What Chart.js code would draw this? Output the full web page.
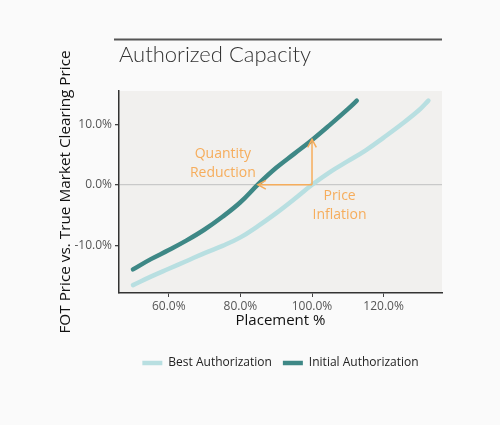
<!DOCTYPE html>
<html>
<head>
<meta charset="utf-8">
<script src="https://cdn.jsdelivr.net/npm/chart.js@4.4.1/dist/chart.umd.min.js"></script>
<style>
  html, body { margin: 0; padding: 0; background: #fafafa; }
  #wrap { width: 500px; height: 425px; position: relative; }
</style>
</head>
<body>
<div id="wrap"><canvas id="capacityChart"></canvas></div>
<script>
// Authorized Capacity: FOT price premium vs placement %
const chartTitle = 'Authorized Capacity';

const bestX = [50, 55, 60, 65, 70, 75, 80, 85, 90, 95, 100, 105, 110, 115, 120, 125, 130, 132.5];
const bestY = [-16.6, -15.2, -13.9, -12.6, -11.3, -10.1, -8.7, -6.8, -4.7, -2.4, 0.0, 2.1, 3.9, 5.7, 7.8, 10.0, 12.4, 13.9];

const initialX = [50, 55, 60, 65, 70, 75, 80, 85, 90, 95, 100, 105, 110, 112.5];
const initialY = [-14.0, -12.3, -10.8, -9.2, -7.4, -5.3, -2.9, 0.1, 2.8, 5.1, 7.4, 9.9, 12.5, 13.9];

const xTicks = [60, 80, 100, 120];
const yTicks = [-10, 0, 10];

// annotation arrows (data units): shared origin, quantity tip, price tip
const arrowOrigin = [100, 0];
const quantityTip = [84.9, 0];
const priceTip = [100, 7.5];
const quantityLabel = ['Quantity', 'Reduction'];
const quantityLabelAt = [75.1, 3.5];
const priceLabel = ['Price', 'Inflation'];
const priceLabelAt = [107.7, -3.5];

const orange = '#f6ad5c';

function zip(xs, ys) {
    return xs.map(function(x, i) { return { x: x, y: ys[i] }; });
}

const panelPlugin = {
    id: 'panel',
    beforeDraw: function(chart) {
        const { ctx, chartArea } = chart;
        ctx.save();
        ctx.fillStyle = '#f1f0ee';
        ctx.fillRect(chartArea.left, chartArea.top, chartArea.right - chartArea.left, chartArea.bottom - chartArea.top);

        // title rule and title
        ctx.strokeStyle = '#555';
        ctx.lineWidth = 1.8;
        ctx.beginPath();
        ctx.moveTo(chartArea.left - 5, 39.5);
        ctx.lineTo(chartArea.right, 39.5);
        ctx.stroke();
        ctx.fillStyle = '#333';
        ctx.font = '300 22px Lato';
        ctx.textBaseline = 'alphabetic';
        ctx.textAlign = 'left';
        ctx.fillText(chartTitle, chartArea.left, 62);
        ctx.restore();
    }
};

function arrowHead(ctx, x, y, angle, size) {
    ctx.beginPath();
    ctx.moveTo(x + Math.cos(angle + 0.5) * size, y + Math.sin(angle + 0.5) * size);
    ctx.lineTo(x, y);
    ctx.lineTo(x + Math.cos(angle - 0.5) * size, y + Math.sin(angle - 0.5) * size);
    ctx.stroke();
}

const arrowPlugin = {
    id: 'arrows',
    afterDatasetsDraw: function(chart) {
        const { ctx } = chart;
        const xs = chart.scales.x, ys = chart.scales.y;
        const ox = xs.getPixelForValue(arrowOrigin[0]), oy = ys.getPixelForValue(arrowOrigin[1]);
        const qx = xs.getPixelForValue(quantityTip[0]), qy = ys.getPixelForValue(quantityTip[1]);
        const px = xs.getPixelForValue(priceTip[0]), py = ys.getPixelForValue(priceTip[1]);
        ctx.save();
        ctx.strokeStyle = orange;
        ctx.lineWidth = 1.5;
        ctx.beginPath();
        ctx.moveTo(ox, oy); ctx.lineTo(qx, qy);
        ctx.moveTo(ox, oy); ctx.lineTo(px, py);
        ctx.stroke();
        arrowHead(ctx, qx, qy, 0, 9);
        arrowHead(ctx, px, py, Math.PI / 2, 9);

        ctx.fillStyle = orange;
        ctx.font = '14px "Open Sans"';
        ctx.textAlign = 'center';
        ctx.textBaseline = 'middle';
        const lx = xs.getPixelForValue(quantityLabelAt[0]), ly = ys.getPixelForValue(quantityLabelAt[1]);
        ctx.fillText(quantityLabel[0], lx, ly - 9.5);
        ctx.fillText(quantityLabel[1], lx, ly + 9.5);
        const rx = xs.getPixelForValue(priceLabelAt[0]), ry = ys.getPixelForValue(priceLabelAt[1]);
        ctx.fillText(priceLabel[0], rx, ry - 9.5);
        ctx.fillText(priceLabel[1], rx, ry + 9.5);
        ctx.restore();
    }
};

const ctx = document.getElementById('capacityChart');

new Chart(ctx, {
    type: 'line',
    data: {
        datasets: [
            {
                label: 'Best Authorization',
                data: zip(bestX, bestY),
                borderColor: '#b8dfe1',
                backgroundColor: '#b8dfe1',
                borderWidth: 4.5,
                borderCapStyle: 'round',
                tension: 0.4,
                pointRadius: 0,
                fill: false
            },
            {
                label: 'Initial Authorization',
                data: zip(initialX, initialY),
                borderColor: '#3e8886',
                backgroundColor: '#3e8886',
                borderWidth: 4.5,
                borderCapStyle: 'round',
                tension: 0.4,
                pointRadius: 0,
                fill: false
            }
        ]
    },
    options: {
        responsive: true,
        maintainAspectRatio: false,
        animation: false,
        layout: {
            padding: { left: 0, top: 91, right: 58, bottom: 46 }
        },
        plugins: {
            legend: {
                position: 'bottom',
                fullSize: false,
                labels: {
                    usePointStyle: true,
                    pointStyle: 'line',
                    pointStyleWidth: 20,
                    padding: 11,
                    color: '#222',
                    font: { family: 'Open Sans', size: 12 }
                }
            },
            tooltip: { enabled: false }
        },
        scales: {
            x: {
                type: 'linear',
                min: 46.1,
                max: 136.3,
                afterBuildTicks: function(scale) {
                    scale.ticks = xTicks.map(function(v) { return { value: v }; });
                },
                afterFit: function(scale) { scale.height = 53; },
                border: { display: true, color: '#333', width: 1.5 },
                grid: {
                    color: 'transparent',
                    tickColor: '#444',
                    tickLength: 4,
                    drawOnChartArea: true
                },
                ticks: {
                    padding: 2,
                    color: '#555',
                    font: { family: 'Open Sans', size: 12 },
                    maxRotation: 0,
                    callback: function(value) { return value.toFixed(1) + '%'; }
                },
                title: {
                    display: true,
                    text: 'Placement %',
                    color: '#111',
                    font: { family: 'Open Sans', size: 15 },
                    padding: { top: 0, bottom: 16.3 }
                }
            },
            y: {
                type: 'linear',
                min: -17.9,
                max: 15.5,
                afterBuildTicks: function(scale) {
                    scale.ticks = yTicks.map(function(v) { return { value: v }; });
                },
                afterFit: function(scale) { scale.width = 119; },
                border: { display: true, color: '#333', width: 1.5 },
                grid: {
                    color: function(c) { return c.tick && c.tick.value === 0 ? '#c9c9c9' : 'transparent'; },
                    lineWidth: 1.3,
                    tickColor: '#444',
                    tickLength: 4
                },
                ticks: {
                    padding: 3,
                    color: '#555',
                    font: { family: 'Open Sans', size: 12 },
                    callback: function(value) { return value.toFixed(1) + '%'; }
                },
                title: {
                    display: true,
                    text: 'FOT Price vs. True Market Clearing Price',
                    color: '#111',
                    font: { family: 'Open Sans', size: 15.3 },
                    padding: { top: 56, bottom: 0 }
                }
            }
        }
    },
    plugins: [panelPlugin, arrowPlugin]
});
</script>
</body>
</html>
